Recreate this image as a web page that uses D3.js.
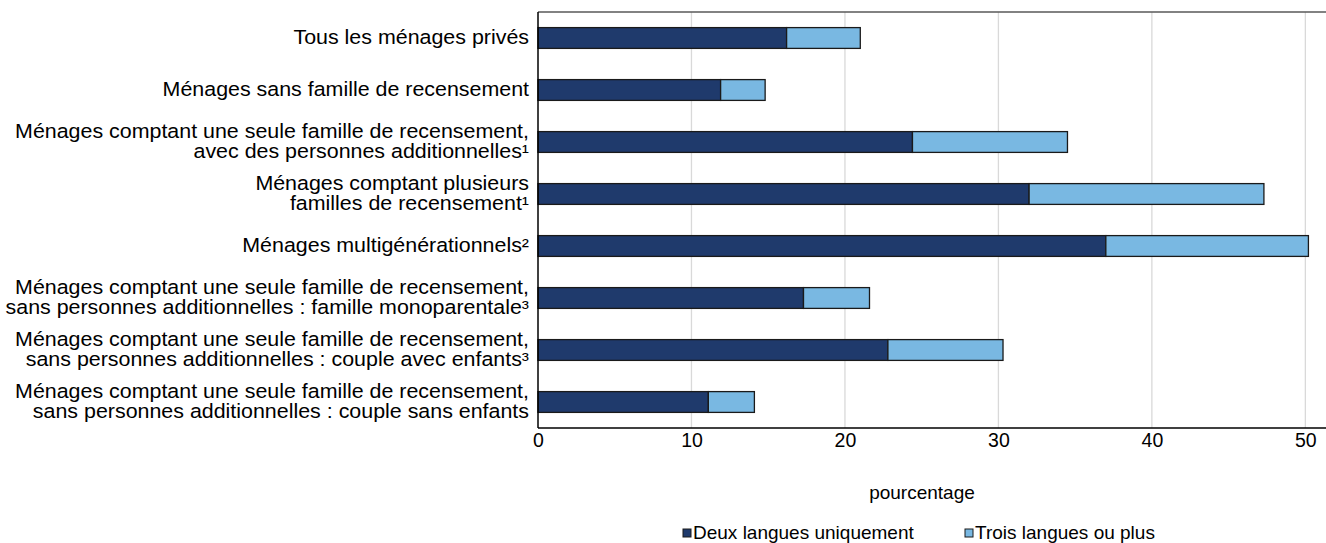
<!DOCTYPE html>
<html>
<head>
<meta charset="utf-8">
<script src="https://cdn.jsdelivr.net/npm/d3@7"></script>
<style>
  body { margin: 0; background: #fff; }
  text { font-family: "Liberation Sans", Arial, sans-serif; fill: #000; }
</style>
</head>
<body>
<div id="canvas"></div>
<script>
const categories = [
  ["Tous les ménages privés"],
  ["Ménages sans famille de recensement"],
  ["Ménages comptant une seule famille de recensement,", "avec des personnes additionnelles¹"],
  ["Ménages comptant plusieurs", "familles de recensement¹"],
  ["Ménages multigénérationnels²"],
  ["Ménages comptant une seule famille de recensement,", "sans personnes additionnelles : famille monoparentale³"],
  ["Ménages comptant une seule famille de recensement,", "sans personnes additionnelles : couple avec enfants³"],
  ["Ménages comptant une seule famille de recensement,", "sans personnes additionnelles : couple sans enfants"]
];
const deuxLangues = [16.2, 11.9, 24.4, 32.0, 37.0, 17.3, 22.8, 11.1];
const troisLangues = [4.8, 2.9, 10.1, 15.3, 13.2, 4.3, 7.5, 3.0];
const seriesNames = ["Deux langues uniquement", "Trois langues ou plus"];
const xTicks = [0, 10, 20, 30, 40, 50];
const axisTitle = "pourcentage";

const width = 1326, height = 543;
const margin = {top: 12, left: 538, bottom: 115, right: 3};
const iwidth = width - margin.left - margin.right;
const iheight = height - margin.top - margin.bottom;
const colors = ["#1f3a6c", "#79b8e2"];

const svg = d3.select("#canvas").append("svg")
  .attr("width", width)
  .attr("height", height);

const g = svg.append("g").attr("transform", `translate(${margin.left},${margin.top})`);

const x = d3.scaleLinear().domain([0, 51.15]).range([0, iwidth]);
const y = d3.scaleBand()
  .domain(d3.range(categories.length))
  .range([0, iheight])
  .paddingInner(0.6)
  .paddingOuter(0.3);

// gridlines
g.selectAll(".grid").data(xTicks.filter(d => d > 0)).enter().append("line")
  .attr("class", "grid")
  .attr("x1", d => x(d)).attr("x2", d => x(d))
  .attr("y1", 0).attr("y2", iheight)
  .attr("stroke", "#d9d9d9").attr("stroke-width", 1.3);

// stacked bars
const stacked = categories.map((c, i) => [
  {x0: 0, x1: deuxLangues[i], s: 0, i},
  {x0: deuxLangues[i], x1: deuxLangues[i] + troisLangues[i], s: 1, i}
]).flat();

g.selectAll("rect.bar").data(stacked).enter().append("rect")
  .attr("class", "bar")
  .attr("x", d => x(d.x0))
  .attr("y", d => y(d.i))
  .attr("width", d => x(d.x1) - x(d.x0))
  .attr("height", y.bandwidth())
  .attr("fill", d => colors[d.s])
  .attr("stroke", "#1a1a1a")
  .attr("stroke-width", 1.3);

// frame: top, left, bottom
g.append("line").attr("x1", 0).attr("x2", iwidth + margin.right).attr("y1", 0).attr("y2", 0)
  .attr("stroke", "#595959").attr("stroke-width", 1.3);
g.append("line").attr("x1", 0).attr("x2", 0).attr("y1", 0).attr("y2", iheight)
  .attr("stroke", "#000").attr("stroke-width", 1.5);

const xAxis = g.append("g")
  .attr("transform", `translate(0,${iheight})`)
  .call(d3.axisBottom(x).tickValues(xTicks).tickSize(0).tickPadding(5));
xAxis.select(".domain").attr("stroke", "#000").attr("stroke-width", 1.5)
  .attr("d", `M0,0H${iwidth + margin.right}`);
xAxis.selectAll("text").style("font-size", "19.5px").style("font-family", "Liberation Sans, Arial, sans-serif").attr("fill", "#000");

// category labels (slightly wide type in the original)
const labels = g.selectAll(".cat").data(categories).enter().append("text")
  .attr("class", "cat")
  .attr("text-anchor", "end")
  .style("font-size", "19.5px")
  .attr("transform", (d, i) => `translate(-9,${y(i) + y.bandwidth() / 2}) scale(1.098,1)`);
labels.each(function(lines) {
  const t = d3.select(this);
  const lh = 20;
  const start = -(lines.length - 1) * lh / 2;
  lines.forEach((ln, k) => {
    t.append("tspan").attr("x", 0).attr("y", start + k * lh).attr("dy", "0.3em").text(ln);
  });
});

// axis title
svg.append("text")
  .attr("x", 922).attr("y", 492)
  .attr("text-anchor", "middle").attr("dy", "0.35em")
  .style("font-size", "19px")
  .text(axisTitle);

// legend
const legendX = [683, 965];
const legend = svg.selectAll(".leg").data(seriesNames).enter().append("g")
  .attr("class", "leg")
  .attr("transform", (d, i) => `translate(${legendX[i]},532)`);
legend.append("rect")
  .attr("x", 0).attr("y", -3).attr("width", 8).attr("height", 8)
  .attr("fill", (d, i) => colors[i]).attr("stroke", "#1a1a1a").attr("stroke-width", 1);
legend.append("text")
  .attr("x", 10).attr("y", 0).attr("dy", "0.35em")
  .style("font-size", "19px")
  .text(d => d);
</script>
</body>
</html>
